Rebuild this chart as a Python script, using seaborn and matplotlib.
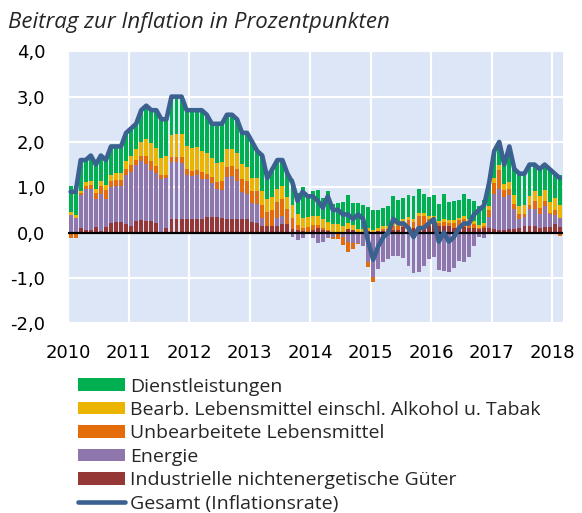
import numpy as np
import matplotlib
matplotlib.use("Agg")
import matplotlib.pyplot as plt
import seaborn as sns
from matplotlib.patches import Patch
from matplotlib.lines import Line2D


# monthly values, Jan 2010 - Feb 2018 (percentage points)
years = ["2010", "2011", "2012", "2013", "2014", "2015", "2016", "2017", "2018"]
y_ticks = [-2, -1, 0, 1, 2, 3, 4]
y_labels = ["-2,0", "-1,0", "0,0", "1,0", "2,0", "3,0", "4,0"]

dienst = [
    0.58, 0.64, 0.68, 0.48, 0.56, 0.53, 0.56, 0.54, 0.64, 0.58, 0.58, 0.63,
    0.60, 0.55, 0.71, 0.73, 0.72, 0.83, 0.89, 0.82, 0.85, 0.83, 0.82, 0.78,
    0.83, 0.82, 0.89, 0.85, 0.76, 0.87, 0.85, 0.76, 0.76, 0.74, 0.69, 0.76,
    0.79, 0.59, 0.79, 0.49, 0.64, 0.64, 0.58, 0.54, 0.59, 0.46, 0.68, 0.46,
    0.56, 0.57, 0.46, 0.68, 0.46, 0.46, 0.53, 0.62, 0.50, 0.58, 0.52, 0.45,
    0.44, 0.40, 0.41, 0.44, 0.60, 0.51, 0.46, 0.49, 0.49, 0.52, 0.41, 0.43,
    0.46, 0.36, 0.54, 0.40, 0.42, 0.39, 0.49, 0.45, 0.44, 0.42, 0.50, 0.52,
    0.60, 0.50, 0.43, 0.78, 0.58, 0.71, 0.70, 0.69, 0.58, 0.60, 0.55, 0.72,
    0.53, 0.68,
]
bearb = [
    0.07, 0.07, 0.05, 0.09, 0.09, 0.10, 0.11, 0.12, 0.12, 0.15, 0.15, 0.16,
    0.20, 0.25, 0.30, 0.38, 0.40, 0.40, 0.38, 0.40, 0.48, 0.50, 0.52, 0.52,
    0.52, 0.50, 0.48, 0.45, 0.42, 0.42, 0.42, 0.40, 0.38, 0.35, 0.32, 0.30,
    0.30, 0.30, 0.30, 0.30, 0.28, 0.28, 0.28, 0.28, 0.28, 0.25, 0.22, 0.22,
    0.20, 0.20, 0.20, 0.19, 0.18, 0.18, 0.15, 0.12, 0.10, 0.08, 0.08, 0.08,
    0.06, 0.06, 0.06, 0.07, 0.07, 0.07, 0.07, 0.07, 0.07, 0.07, 0.07, 0.07,
    0.07, 0.06, 0.07, 0.06, 0.06, 0.06, 0.06, 0.06, 0.06, 0.06, 0.07, 0.09,
    0.10, 0.12, 0.14, 0.15, 0.18, 0.18, 0.20, 0.20, 0.22, 0.25, 0.25, 0.25,
    0.28, 0.28,
]
unbearb = [
    -0.13, -0.13, 0.05, 0.07, 0.08, 0.13, 0.18, 0.20, 0.14, 0.14, 0.14, 0.15,
    0.16, 0.12, 0.12, 0.18, 0.20, 0.15, 0.08, 0.08, 0.12, 0.12, 0.12, 0.12,
    0.10, 0.10, 0.15, 0.12, 0.12, 0.14, 0.18, 0.22, 0.22, 0.28, 0.30, 0.30,
    0.26, 0.28, 0.28, 0.30, 0.35, 0.36, 0.38, 0.32, 0.24, 0.10, 0.07, 0.10,
    0.10, 0.06, 0.04, 0.02, -0.05, -0.12, -0.18, -0.22, -0.12, -0.02, 0.00, -0.10,
    -0.12, 0.01, 0.05, 0.05, 0.08, 0.08, 0.12, 0.15, 0.15, 0.28, 0.22, 0.15,
    0.10, 0.05, 0.09, 0.08, 0.12, 0.15, 0.18, 0.15, 0.10, 0.04, 0.05, 0.15,
    0.25, 0.42, 0.15, 0.15, 0.12, 0.12, 0.05, 0.08, 0.18, 0.15, 0.12, 0.03,
    0.10, -0.08,
]
energie = [
    0.36, 0.30, 0.72, 0.90, 0.92, 0.62, 0.81, 0.62, 0.78, 0.80, 0.80, 1.08,
    1.20, 1.22, 1.30, 1.25, 1.12, 1.10, 1.18, 1.10, 1.25, 1.25, 1.24, 0.98,
    0.95, 0.98, 0.88, 0.84, 0.76, 0.63, 0.63, 0.92, 0.94, 0.83, 0.59, 0.54,
    0.41, 0.41, 0.18, -0.04, -0.02, 0.17, 0.17, -0.03, -0.09, -0.17, -0.11, 0.00,
    -0.12, -0.23, -0.21, -0.12, -0.09, 0.01, -0.10, -0.20, -0.24, -0.21, -0.27, -0.66,
    -0.95, -0.80, -0.65, -0.59, -0.51, -0.52, -0.57, -0.73, -0.90, -0.86, -0.74, -0.59,
    -0.53, -0.82, -0.85, -0.88, -0.79, -0.62, -0.65, -0.55, -0.29, -0.09, -0.11, 0.25,
    0.78, 0.90, 0.72, 0.74, 0.44, 0.18, 0.21, 0.39, 0.38, 0.29, 0.46, 0.28,
    0.21, 0.20,
]
industrie = [
    0.02, 0.02, 0.10, 0.06, 0.05, 0.12, 0.04, 0.12, 0.22, 0.23, 0.23, 0.18,
    0.14, 0.26, 0.27, 0.26, 0.26, 0.22, -0.03, 0.10, 0.30, 0.30, 0.30, 0.30,
    0.30, 0.30, 0.30, 0.34, 0.34, 0.34, 0.32, 0.30, 0.30, 0.30, 0.30, 0.30,
    0.24, 0.22, 0.15, 0.15, 0.15, 0.15, 0.19, 0.19, 0.08, 0.06, 0.04, 0.02,
    0.06, 0.10, 0.06, 0.03, 0.00, -0.03, 0.00, 0.08, 0.06, -0.03, -0.03, 0.03,
    -0.03, 0.03, 0.03, 0.03, 0.06, 0.06, 0.12, 0.12, 0.09, 0.09, 0.14, 0.14,
    0.20, 0.15, 0.15, 0.14, 0.09, 0.12, 0.12, 0.09, 0.09, 0.07, 0.09, 0.09,
    0.07, 0.06, 0.06, 0.08, 0.08, 0.11, 0.14, 0.14, 0.14, 0.11, 0.12, 0.12,
    0.18, 0.12,
]
gesamt = [
    0.9, 0.9, 1.6, 1.6, 1.7, 1.5, 1.7, 1.6, 1.9, 1.9, 1.9, 2.2,
    2.3, 2.4, 2.7, 2.8, 2.7, 2.7, 2.5, 2.5, 3.0, 3.0, 3.0, 2.7,
    2.7, 2.7, 2.7, 2.6, 2.4, 2.4, 2.4, 2.6, 2.6, 2.5, 2.2, 2.2,
    2.0, 1.8, 1.7, 1.2, 1.4, 1.6, 1.6, 1.3, 1.1, 0.7, 0.9, 0.8,
    0.8, 0.7, 0.55, 0.8, 0.5, 0.5, 0.4, 0.4, 0.3, 0.4, 0.3, -0.2,
    -0.6, -0.3, -0.1, 0.0, 0.3, 0.2, 0.2, 0.1, -0.1, 0.1, 0.1, 0.2,
    0.3, -0.2, 0.0, -0.2, -0.1, 0.1, 0.2, 0.2, 0.4, 0.5, 0.6, 1.1,
    1.8, 2.0, 1.5, 1.9, 1.4, 1.3, 1.3, 1.5, 1.5, 1.4, 1.5, 1.4,
    1.3, 1.2,
]

# stacking order from the zero line outwards
components = [
    ("Industrielle nichtenergetische Güter", industrie, "#953735"),
    ("Energie", energie, "#8f77ad"),
    ("Unbearbeitete Lebensmittel", unbearb, "#e46c0a"),
    ("Bearb. Lebensmittel einschl. Alkohol u. Tabak", bearb, "#ebb400"),
    ("Dienstleistungen", dienst, "#00b050"),
]
line_color = "#3a6190"

sns.set_style("white")
plt.rcParams["font.family"] = ["Open Sans", "DejaVu Sans"]

fig = plt.figure(figsize=(5.82, 5.13), dpi=100)
ax = fig.add_axes([0.117, 0.370, 0.850, 0.530])
ax.set_facecolor("#dce6f6")

x = np.arange(len(gesamt))
pos_base = np.zeros(len(x))
neg_base = np.zeros(len(x))
for name, vals, color in components:
    v = np.array(vals)
    pos = np.clip(v, 0, None)
    neg = np.clip(v, None, 0)
    ax.bar(x, pos, bottom=pos_base, width=0.78, color=color, linewidth=0, zorder=2)
    ax.bar(x, neg, bottom=neg_base, width=0.78, color=color, linewidth=0, zorder=2)
    pos_base += pos
    neg_base += neg

ax.axhline(0, color="black", lw=1.6, zorder=3)
sns.lineplot(x=x, y=gesamt, ax=ax, color=line_color, lw=3.3, zorder=4)

year_pos = np.arange(len(years)) * 12 - 0.5
ax.set_xticks(year_pos)
ax.set_xticklabels(years, fontfamily="DejaVu Sans", fontsize=13)
ax.set_yticks(y_ticks)
ax.set_yticklabels(y_labels, fontfamily="DejaVu Sans", fontsize=13)
ax.set_xlim(-0.5, 97.6)
ax.set_ylim(-2, 4)
ax.grid(True, color="white", lw=1.6, zorder=1)
ax.set_axisbelow(True)
for s in ax.spines.values():
    s.set_visible(False)
ax.tick_params(axis="both", length=0, colors="black")
ax.tick_params(axis="y", pad=16.5)
ax.tick_params(axis="x", pad=15)
ax.set_xlabel("")
ax.set_ylabel("")

fig.text(0.014, 0.957, "Beitrag zur Inflation in Prozentpunkten",
         fontsize=16, style="italic", ha="left", va="center")

handles = [Patch(facecolor=c, edgecolor="none") for _, _, c in components[::-1]]
labels = [n for n, _, _ in components[::-1]]
handles.append(Line2D([0], [0], color=line_color, lw=3.3))
labels.append("Gesamt (Inflationsrate)")
fig.legend(handles, labels, loc="upper left", bbox_to_anchor=(0.134, 0.264),
           frameon=False, fontsize=14, handlelength=2.4, handleheight=0.62,
           handletextpad=0.3, labelspacing=0.28, borderpad=0, borderaxespad=0)

fig.savefig("out.png", dpi=100)
